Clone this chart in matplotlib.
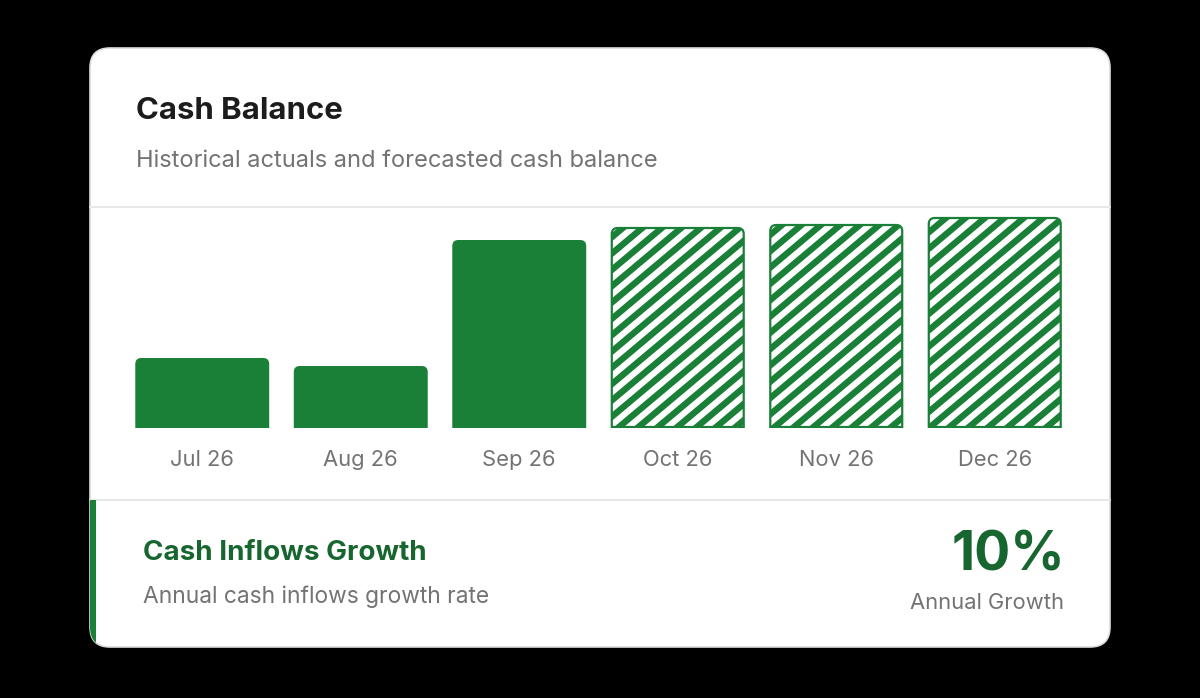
import matplotlib
matplotlib.use("Agg")
import matplotlib.pyplot as plt
import numpy as np
from matplotlib.patches import FancyBboxPatch, PathPatch, Rectangle
from matplotlib.path import Path
from matplotlib.collections import LineCollection

# ---- data ----
months = ["Jul 26", "Aug 26", "Sep 26", "Oct 26", "Nov 26", "Dec 26"]
cash_balance = [700, 620, 1880, 2010, 2040, 2110]   # $K (estimated)
is_forecast = [False, False, False, True, True, True]
title = "Cash Balance"
subtitle = "Historical actuals and forecasted cash balance"
kpi_title = "Cash Inflows Growth"
kpi_sub = "Annual cash inflows growth rate"
kpi_value = "10%"
kpi_label = "Annual Growth"

GREEN = "#1a8038"
DARK_GREEN = "#17652f"
GRAY = "#737373"

plt.rcParams['font.family'] = ['Inter', 'DejaVu Sans']

W, H = 1200, 698
fig = plt.figure(figsize=(W / 100, H / 100), dpi=100, facecolor="black")

# background axes in pixel coords (y down)
bg = fig.add_axes([0, 0, 1, 1])
bg.set_xlim(0, W)
bg.set_ylim(H, 0)
bg.axis("off")
bg.set_facecolor("black")

cx0, cy0, cx1, cy1 = 90, 48, 1110, 647
card = FancyBboxPatch((cx0, cy0), cx1 - cx0, cy1 - cy0,
                      boxstyle="round,pad=0,rounding_size=20",
                      facecolor="white", edgecolor="#dcdcdc", linewidth=1.2, zorder=1)
bg.add_patch(card)

# dividers
bg.plot([cx0, cx1], [207, 207], color="#e6e6e6", lw=1.3, zorder=2)
bg.plot([cx0, cx1], [500, 500], color="#e6e6e6", lw=1.3, zorder=2)

# green accent on the bottom section
acc = Rectangle((cx0, 500), 5.5, cy1 - 500, facecolor=GREEN, edgecolor="none", zorder=3)
bg.add_patch(acc)
acc.set_clip_path(card)

# texts
bg.text(136, 111, title, fontsize=22.4, fontweight="bold", color="#1c1c1c",
        va="center", ha="left", zorder=4)
bg.text(136, 161, subtitle, fontsize=17, color=GRAY, va="center", ha="left", zorder=4)
bg.text(143, 553, kpi_title, fontsize=20, fontweight="bold", color=DARK_GREEN,
        va="center", ha="left", zorder=4)
bg.text(143, 597, kpi_sub, fontsize=16.4, color=GRAY, va="center", ha="left", zorder=4)
bg.text(1065, 556, kpi_value, fontsize=38.5, fontweight="bold", color=DARK_GREEN,
        va="center", ha="right", zorder=4)
bg.text(1064, 603, kpi_label, fontsize=15.8, color=GRAY, va="center", ha="right", zorder=4)

# ---- bar chart axes ----
ax_left, ax_right = 123, 1074
ax_top, ax_bottom = 208, 428
ax = fig.add_axes([ax_left / W, (H - ax_bottom) / H,
                   (ax_right - ax_left) / W, (ax_bottom - ax_top) / H])
ax.set_facecolor("none")
ymax = 2200
ax.set_xlim(-0.5, len(months) - 0.5)
ax.set_ylim(0, ymax)
for s in ax.spines.values():
    s.set_visible(False)
ax.set_xticks(range(len(months)))
ax.set_xticklabels(months, fontsize=15.8, color=GRAY)
ax.tick_params(axis="x", length=0, pad=16)
ax.set_yticks([])

bars = ax.bar(range(len(months)), cash_balance, width=0.845)

px_x = (ax_right - ax_left) / len(months)       # px per x unit
px_y = (ax_bottom - ax_top) / ymax              # px per y unit
r_px = 6
rx = r_px / px_x
ry = r_px / px_y


def top_round_path(x0, x1, y0, y1):
    verts = [(x0, y0), (x0, y1 - ry), (x0, y1), (x0 + rx, y1),
             (x1 - rx, y1), (x1, y1), (x1, y1 - ry), (x1, y0), (x0, y0)]
    codes = [Path.MOVETO, Path.LINETO, Path.CURVE3, Path.CURVE3,
             Path.LINETO, Path.CURVE3, Path.CURVE3, Path.LINETO, Path.CLOSEPOLY]
    return Path(verts, codes)


# diagonal stripe pattern (pixel space)
theta = np.radians(40)
spacing = 12.5
s_t, c_t = np.sin(theta), np.cos(theta)
stripe_c = np.arange(0, 1400, spacing)
stripe_segs = [[((c - 470 * c_t) / s_t, 470), ((c - 170 * c_t) / s_t, 170)]
               for c in stripe_c]

for b, fc in zip(bars, is_forecast):
    x0 = b.get_x()
    x1 = x0 + b.get_width()
    y1 = b.get_height()
    b.set_visible(False)
    if fc:
        dx = 1.0 / px_x
        dy = 1.0 / px_y
        path = top_round_path(x0 + dx, x1 - dx, dy, y1 - dy)
        face = PathPatch(path, facecolor="white", edgecolor="none", zorder=3)
        ax.add_patch(face)
        lc = LineCollection(stripe_segs, colors=GREEN, linewidths=4.6,
                            transform=bg.transData, zorder=3.5)
        ax.add_collection(lc, autolim=False)
        lc.set_clip_path(face)
        border = PathPatch(path, facecolor="none", edgecolor=GREEN, linewidth=1.6,
                           zorder=4)
        ax.add_patch(border)
    else:
        p = PathPatch(top_round_path(x0, x1, 0, y1), facecolor=GREEN,
                      edgecolor="none", zorder=3)
        ax.add_patch(p)

ax.set_xlim(-0.5, len(months) - 0.5)
ax.set_ylim(0, ymax)

fig.savefig("out.png", dpi=100, facecolor="black")
